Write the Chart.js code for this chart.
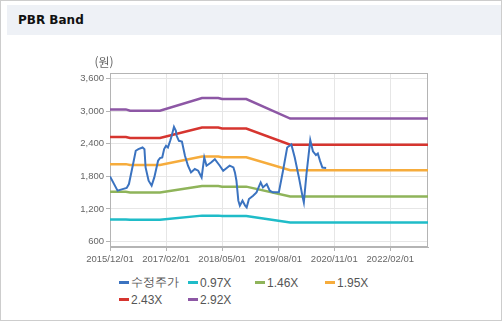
<!DOCTYPE html>
<html lang="ko">
<head>
    <meta charset="UTF-8">
    <meta name="viewport" content="width=device-width, initial-scale=1.0">
    <title>PBR Band</title>
    <script src="https://cdn.jsdelivr.net/npm/chart.js@4.4.1/dist/chart.umd.min.js"></script>
    <style>
        body { margin: 0; background: #fff; font-family: "Liberation Sans", Arial, sans-serif; }
        .box { position: absolute; left: 0; top: 0; width: 502px; height: 321px; box-sizing: border-box; border: 1px solid #cdcdcd; }
        .head { position: absolute; left: 7px; top: 5px; width: 494px; height: 30px; background: #eef1f6; }
        .head h3 { position: absolute; left: 11px; top: 8px; margin: 0; font: bold 12px "DejaVu Sans", sans-serif; color: #111; }
        .chart { position: absolute; left: 0; top: 40px; width: 503px; height: 230px; }
        #legend { position: absolute; left: 119px; top: 274px; display: grid; grid-template-columns: 69px 67px 70px 70px; }
        #legend .item { display: flex; align-items: center; height: 17px; font-size: 12px; color: #555; white-space: nowrap; }
        #legend .sw { display: inline-block; width: 10px; height: 3px; margin-right: 2px; }
    </style>
</head>
<body>
    <div class="box"></div>
    <div class="head"><h3>PBR Band</h3></div>
    <div class="chart"><canvas id="pbrChart"></canvas></div>
    <div id="legend"></div>

<script>
// x 값은 2015/12 기준 개월 수
const tickLabels = ['2015/12/01', '2017/02/01', '2018/05/01', '2019/08/01', '2020/11/01', '2022/02/01'];
const tickStep = 14.81;
const yTicks = [600, 1200, 1800, 2400, 3000, 3600];

// 수정주가
const priceMonths = [0, 2.0, 3.1, 4.4, 5.0, 6.1, 6.8, 7.5, 8.6, 9.1, 9.4, 10.2, 11.0, 11.7, 12.7, 13.2, 13.8, 14.3, 14.8, 15.3,
    15.9, 16.3, 16.9, 17.4, 17.6, 18.2, 19.0, 19.8, 20.6, 21.4, 22.4, 23.3, 24.2, 24.9, 25.5, 26.7, 27.7, 29.0, 29.9, 31.0,
    31.6, 32.6, 33.0, 33.4, 33.9, 34.3, 35.0, 35.7, 36.1, 36.7, 37.8, 38.7, 39.8, 40.4, 41.4, 42.2, 43.0, 44.6, 45.7, 46.8,
    47.9, 48.8, 49.9, 50.9, 51.2, 51.9, 52.9, 53.6, 54.4, 54.9, 55.5, 56.1, 57.1];
const prices = [1798, 1536, 1560, 1585, 1658, 2025, 2270, 2300, 2330, 2300, 1963, 1719, 1628, 1780, 2086, 2135, 2147, 2300, 2361, 2330,
    2453, 2545, 2710, 2637, 2545, 2453, 2440, 2178, 1995, 1872, 1934, 1903, 1780, 2147, 1995, 2055, 2116, 1995, 1903, 1963,
    1995, 1963, 1872, 1719, 1352, 1260, 1352, 1260, 1229, 1383, 1444, 1505, 1688, 1596, 1658, 1536, 1505, 1505, 1903, 2330,
    2385, 2147, 1780, 1413, 1321, 1842, 2466, 2260, 2190, 2220, 2080, 1960, 1955];

// PBR 밴드
const bandMonths = [0, 4.2, 5.3, 13.2, 24.3, 28.6, 29.6, 36.0, 47.6, 84];
const band097 = [1007, 1007, 999, 999, 1077, 1077, 1070, 1070, 951, 951];
const band146 = [1516, 1516, 1504, 1504, 1621, 1621, 1610, 1610, 1431, 1431];
const band195 = [2024, 2024, 2009, 2009, 2165, 2165, 2151, 2151, 1911, 1911];
const band243 = [2522, 2522, 2503, 2503, 2697, 2697, 2680, 2680, 2381, 2381];
const band292 = [3031, 3031, 3008, 3008, 3241, 3241, 3221, 3221, 2862, 2862];

function pts(xs, ys) {
    return xs.map((x, i) => ({ x: x, y: ys[i] }));
}

function line(label, xs, ys, color, width) {
    return { label: label, data: pts(xs, ys), borderColor: color, backgroundColor: color,
             borderWidth: width, pointRadius: 0, fill: false, tension: 0 };
}

const datasets = [
    line('수정주가', priceMonths, prices, '#3b73c0', 2),
    line('0.97X', bandMonths, band097, '#1fbcc8', 2.5),
    line('1.46X', bandMonths, band146, '#8fb45a', 2.5),
    line('1.95X', bandMonths, band195, '#f6ac3c', 2.5),
    line('2.43X', bandMonths, band243, '#d6352f', 2.5),
    line('2.92X', bandMonths, band292, '#8d57a5', 2.5)
];

// 플롯 테두리와 단위 표시
const framePlugin = {
    id: 'frame',
    beforeDatasetsDraw(chart) {
        const { ctx, chartArea: a } = chart;
        ctx.save();
        ctx.strokeStyle = '#b4b4b4';
        ctx.lineWidth = 1;
        ctx.strokeRect(Math.round(a.left) + 0.5, Math.round(a.top) + 0.5, Math.round(a.right - a.left) - 1, Math.round(a.bottom - a.top) - 1);
        ctx.restore();
    },
    afterDraw(chart) {
        const { ctx, chartArea: a } = chart;
        ctx.save();
        ctx.fillStyle = '#666';
        ctx.font = '12px "Noto Sans CJK KR", sans-serif';
        ctx.textAlign = 'center';
        ctx.textBaseline = 'middle';
        ctx.fillText('(원)', a.left - 6, a.top - 11);
        ctx.restore();
    }
};

Chart.defaults.font.family = '"Liberation Sans", Arial, sans-serif';
Chart.defaults.font.size = 9.5;
Chart.defaults.color = '#666';

const chart = new Chart(document.getElementById('pbrChart'), {
    type: 'line',
    data: { datasets: datasets },
    options: {
        responsive: true,
        maintainAspectRatio: false,
        animation: false,
        layout: { padding: { top: 33, left: 50, right: 75, bottom: 3 } },
        plugins: { legend: { display: false }, tooltip: { enabled: false } },
        scales: {
            x: {
                type: 'linear', min: 0, max: 84,
                afterBuildTicks: axis => { axis.ticks = tickLabels.map((t, i) => ({ value: i * tickStep })); },
                afterFit: scale => { scale.height = 20; },
                ticks: { autoSkip: false, maxRotation: 0, padding: 3, callback: (v, i) => tickLabels[i] },
                grid: { color: '#e6e6e6', tickColor: '#b4b4b4', tickLength: 4 },
                border: { color: '#b4b4b4' }
            },
            y: {
                min: 500, max: 3700,
                afterBuildTicks: axis => { axis.ticks = yTicks.map(v => ({ value: v })); },
                afterFit: scale => { scale.width = 60; },
                ticks: { padding: 2, callback: v => v.toLocaleString('en-US') },
                grid: { color: '#e6e6e6', tickColor: '#b4b4b4', tickLength: 4 },
                border: { color: '#b4b4b4' }
            }
        }
    },
    plugins: [framePlugin]
});

// 범례
const legend = document.getElementById('legend');
chart.data.datasets.forEach(ds => {
    const item = document.createElement('div');
    item.className = 'item';
    const sw = document.createElement('span');
    sw.className = 'sw';
    sw.style.background = ds.borderColor;
    item.appendChild(sw);
    item.appendChild(document.createTextNode(ds.label));
    legend.appendChild(item);
});
</script>
</body>
</html>
